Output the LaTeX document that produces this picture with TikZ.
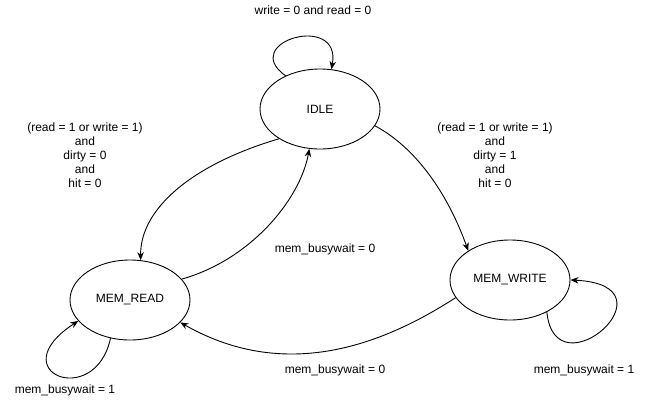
\documentclass[tikz,border=0pt]{standalone}
\usepackage{fontspec}
\setmainfont{Liberation Sans}
\usetikzlibrary{arrows.meta, shapes.geometric}

\begin{document}
\begin{tikzpicture}[
    x=1pt, y=-1pt,
    state/.style={ellipse, draw=black, line width=0.9pt, minimum width=120pt, minimum height=80pt, inner sep=0pt, font=\fontsize{12}{14}\selectfont},
    trans/.style={-{Stealth[length=8pt, width=6.5pt]}, line width=0.9pt},
    cond/.style={font=\fontsize{12}{14}\selectfont, align=center, inner sep=0pt}
]
\useasboundingbox (0,0) rectangle (652,402);

% States
\node[state] (idle) at (320,109) {IDLE};
\node[state] (memread) at (130,300) {MEM\_READ};
\node[state] (memwrite) at (510,280) {MEM\_WRITE};

% Conditions
\node[cond] (cidle) at (313,10) {write = 0 and read = 0};
\node[cond] (cread) at (85,155) {(read = 1 or write = 1)\\and\\dirty = 0\\and\\hit = 0};
\node[cond] (cwrite) at (495,155) {(read = 1 or write = 1)\\and\\dirty = 1\\and\\hit = 0};
\node[cond] (cback) at (325,249) {mem\_busywait = 0};
\node[cond] (cwb) at (335,370) {mem\_busywait = 0};
\node[cond] (crwait) at (65,390) {mem\_busywait = 1};
\node[cond] (cwwait) at (584,370) {mem\_busywait = 1};

% Transitions
\draw[trans] (idle.136) .. controls (238,42) and (342,12) .. (idle.74);
\draw[trans] (idle.216) .. controls (190,165) and (140,210) .. (memread.75);
\draw[trans] (memread.22) .. controls (250,260) and (300,200) .. (idle.255);
\draw[trans] (idle.343) .. controls (420,150) and (450,200) .. (memwrite.145);
\draw[trans] (memwrite.198) .. controls (390,340) and (290,385) .. (memread.336);
\draw[trans] (memread.243) .. controls (95,410) and (0,372) .. (memread.202);
\draw[trans] (memwrite.319) .. controls (555,395) and (680,285) .. (memwrite.east);
\end{tikzpicture}
\end{document}
